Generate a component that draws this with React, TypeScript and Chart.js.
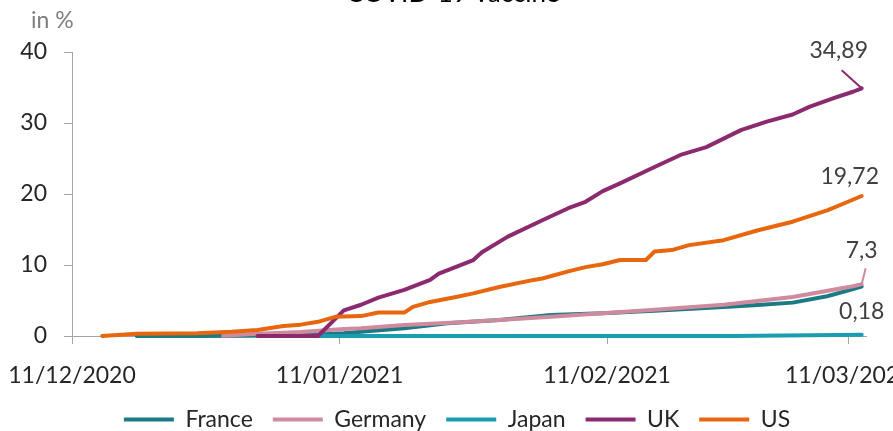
import React, { useEffect, useRef } from 'react';
import { Chart, registerables } from 'chart.js';

Chart.register(...registerables);

// ---------- data ----------
const TITLE = 'COVID-19 vaccine';
const Y_UNIT = 'in %';
const SERIES = ['France', 'Germany', 'Japan', 'UK', 'US'];
const COLORS = ['#1B7A83', '#D08A9E', '#1A9DB0', '#8B2A6E', '#E8660D'];

const X_TICK_DATES = ['11/12/2020', '11/01/2021', '11/02/2021', '11/03/2021'];
const X_END_DATE = '13/03/2021';
const Y_MIN = 0;
const Y_MAX = 40;
const Y_STEP = 10;

const FRANCE_DATES = ['18/12/2020', '25/12/2020', '31/12/2020', '08/01/2021', '11/01/2021', '14/01/2021', '18/01/2021', '23/01/2021', '29/01/2021', '04/02/2021', '10/02/2021', '16/02/2021', '24/02/2021', '28/02/2021', '04/03/2021', '08/03/2021', '11/03/2021', '12/03/2021'];
const FRANCE_VALUES = [0, 0, 0.05, 0.2, 0.4, 0.7, 1.1, 1.8, 2.25, 2.95, 3.2, 3.55, 4.1, 4.35, 4.7, 5.6, 6.6, 6.95];

const GERMANY_DATES = ['28/12/2020', '01/01/2021', '06/01/2021', '11/01/2021', '13/01/2021', '18/01/2021', '24/01/2021', '29/01/2021', '04/02/2021', '10/02/2021', '16/02/2021', '24/02/2021', '04/03/2021', '10/03/2021', '11/03/2021', '12/03/2021'];
const GERMANY_VALUES = [0.05, 0.3, 0.55, 1.0, 1.1, 1.55, 1.9, 2.25, 2.7, 3.2, 3.7, 4.4, 5.5, 6.8, 7.0, 7.3];

const JAPAN_DATES = ['08/01/2021', '25/02/2021', '28/02/2021', '06/03/2021', '12/03/2021'];
const JAPAN_VALUES = [0, 0, 0.05, 0.1, 0.18];

const UK_DATES = ['01/01/2021', '08/01/2021', '11/01/2021', '13/01/2021', '15/01/2021', '18/01/2021', '21/01/2021', '22/01/2021', '26/01/2021', '27/01/2021', '30/01/2021', '03/02/2021', '06/02/2021', '08/02/2021', '10/02/2021', '12/02/2021', '16/02/2021', '19/02/2021', '22/02/2021', '26/02/2021', '01/03/2021', '04/03/2021', '06/03/2021', '09/03/2021', '11/03/2021', '12/03/2021'];
const UK_VALUES = [0, 0, 3.6, 4.4, 5.4, 6.5, 7.9, 8.8, 10.7, 11.8, 14.0, 16.3, 18.0, 18.9, 20.4, 21.5, 23.8, 25.5, 26.6, 29.0, 30.2, 31.2, 32.3, 33.6, 34.4, 34.89];

const US_DATES = ['14/12/2020', '18/12/2020', '25/12/2020', '29/12/2020', '01/01/2021', '04/01/2021', '06/01/2021', '08/01/2021', '10/01/2021', '13/01/2021', '15/01/2021', '18/01/2021', '19/01/2021', '21/01/2021', '24/01/2021', '26/01/2021', '29/01/2021', '02/02/2021', '03/02/2021', '06/02/2021', '08/02/2021', '10/02/2021', '12/02/2021', '15/02/2021', '16/02/2021', '18/02/2021', '20/02/2021', '24/02/2021', '28/02/2021', '04/03/2021', '08/03/2021', '10/03/2021', '12/03/2021'];
const US_VALUES = [0, 0.3, 0.4, 0.6, 0.85, 1.4, 1.6, 2.0, 2.7, 2.8, 3.3, 3.3, 4.1, 4.8, 5.5, 6.0, 6.9, 7.9, 8.1, 9.1, 9.7, 10.1, 10.7, 10.7, 11.9, 12.1, 12.8, 13.5, 14.9, 16.1, 17.7, 18.7, 19.72];

// ---------- presentation ----------
const FONT = 'Lato';
const END_LABELS: Record<string, { dx: number; dy: number; leader?: [number, number] }> = {
  UK: { dx: -23, dy: -38, leader: [-20, -18] },
  US: { dx: -12, dy: -19 },
  Germany: { dx: 0, dy: -34, leader: [4, -16] },
  Japan: { dx: 0, dy: -23 },
};
const LEGEND_SHIFT = 24;

const START = Date.UTC(2020, 11, 11);
const dayOf = (s: string) => {
  const [d, m, y] = s.split('/').map(Number);
  return (Date.UTC(y, m - 1, d) - START) / 86400000;
};
const toPoints = (dates: string[], values: number[]) =>
  dates.map((s, i) => ({ x: dayOf(s) + 0.5, y: values[i] }));

const SERIES_DATA = [
  toPoints(FRANCE_DATES, FRANCE_VALUES),
  toPoints(GERMANY_DATES, GERMANY_VALUES),
  toPoints(JAPAN_DATES, JAPAN_VALUES),
  toPoints(UK_DATES, UK_VALUES),
  toPoints(US_DATES, US_VALUES),
];

const overlay = {
  id: 'overlay',
  afterLayout(chart: any) {
    if (chart.legend) {
      chart.legend.left += LEGEND_SHIFT;
      chart.legend.right += LEGEND_SHIFT;
    }
  },
  afterDatasetsDraw(chart: any) {
    const ctx = chart.ctx;
    ctx.save();
    chart.data.datasets.forEach((ds: any, i: number) => {
      const cfg = END_LABELS[ds.label];
      if (!cfg) return;
      const meta = chart.getDatasetMeta(i);
      const pt = meta.data[meta.data.length - 1];
      const v = ds.data[ds.data.length - 1].y;
      if (cfg.leader) {
        ctx.strokeStyle = ds.borderColor;
        ctx.lineWidth = 2;
        ctx.beginPath();
        ctx.moveTo(pt.x, pt.y);
        ctx.lineTo(pt.x + cfg.leader[0], pt.y + cfg.leader[1]);
        ctx.stroke();
      }
      ctx.font = `23px ${FONT}`;
      ctx.fillStyle = '#404040';
      ctx.textAlign = 'center';
      ctx.textBaseline = 'middle';
      ctx.fillText(String(v).replace('.', ','), pt.x + cfg.dx, pt.y + cfg.dy);
    });
    // title (cut at the top in the reference) and unit label
    ctx.fillStyle = '#000000';
    ctx.font = `26px ${FONT}`;
    ctx.textAlign = 'center';
    ctx.textBaseline = 'alphabetic';
    ctx.fillText(TITLE, 453, 1.5);
    ctx.fillStyle = '#7F7F7F';
    ctx.font = `23px ${FONT}`;
    ctx.textAlign = 'left';
    ctx.fillText(Y_UNIT, 31, 28);
    ctx.restore();
  },
};

export default function App() {
  const ref = useRef<HTMLCanvasElement | null>(null);
  useEffect(() => {
    document.body.style.margin = '0';
    document.body.style.overflow = 'hidden';
    const canvas = ref.current!;
    const chart = new Chart(canvas, {
      type: 'line',
      data: {
        datasets: SERIES.map((name, i) => ({
          label: name,
          data: SERIES_DATA[i],
          borderColor: COLORS[i],
          backgroundColor: COLORS[i],
          borderWidth: 4,
          pointRadius: 0,
          pointStyle: 'line',
          tension: 0,
          borderJoinStyle: 'round',
          borderCapStyle: 'round',
          fill: false,
          clip: false,
          order: SERIES.length - i,
        })),
      },
      options: {
        animation: false,
        responsive: false,
        events: [],
        layout: { padding: { top: 52, left: 0, right: 27, bottom: 0 } },
        plugins: {
          legend: {
            position: 'bottom',
            align: 'center',
            labels: {
              usePointStyle: true,
              pointStyle: 'line',
              pointStyleWidth: 50,
              font: { family: FONT, size: 23 },
              color: '#262626',
              padding: 20,
              sort: (a: any, b: any) => a.datasetIndex - b.datasetIndex,
            },
          },
          tooltip: { enabled: false },
          title: { display: false },
        },
        scales: {
          x: {
            type: 'linear',
            min: 0,
            max: dayOf(X_END_DATE),
            afterBuildTicks: (scale: any) => {
              scale.ticks = X_TICK_DATES.map((d) => ({ value: dayOf(d) }));
            },
            afterFit: (scale: any) => {
              scale.height = 52;
              scale.paddingLeft = 0;
              scale.paddingRight = 0;
            },
            ticks: {
              autoSkip: false,
              maxRotation: 0,
              minRotation: 0,
              padding: 18,
              color: '#262626',
              font: { family: FONT, size: 23 },
              callback: (v: any) => {
                const i = X_TICK_DATES.findIndex((d) => dayOf(d) === v);
                return i >= 0 ? X_TICK_DATES[i] : '';
              },
            },
            grid: { drawOnChartArea: false, drawTicks: true, tickLength: 8, color: '#A6A6A6' },
            border: { display: true, color: '#A6A6A6', width: 1 },
          },
          y: {
            min: Y_MIN,
            max: Y_MAX,
            afterFit: (scale: any) => {
              scale.width = 72;
              scale.paddingTop = 0;
              scale.paddingBottom = 0;
            },
            ticks: {
              stepSize: Y_STEP,
              padding: 17,
              color: '#262626',
              font: { family: FONT, size: 23 },
            },
            grid: { drawOnChartArea: false, drawTicks: true, tickLength: 8, color: '#A6A6A6' },
            border: { display: true, color: '#A6A6A6', width: 1 },
          },
        },
      },
      plugins: [overlay],
    } as any);
    return () => chart.destroy();
  }, []);
  return (
    <div style={{ position: 'fixed', left: 0, top: 0, width: 893, height: 431, overflow: 'hidden', background: '#fff' }}>
      <canvas ref={ref} width={893} height={441} style={{ display: 'block' }} />
    </div>
  );
}
